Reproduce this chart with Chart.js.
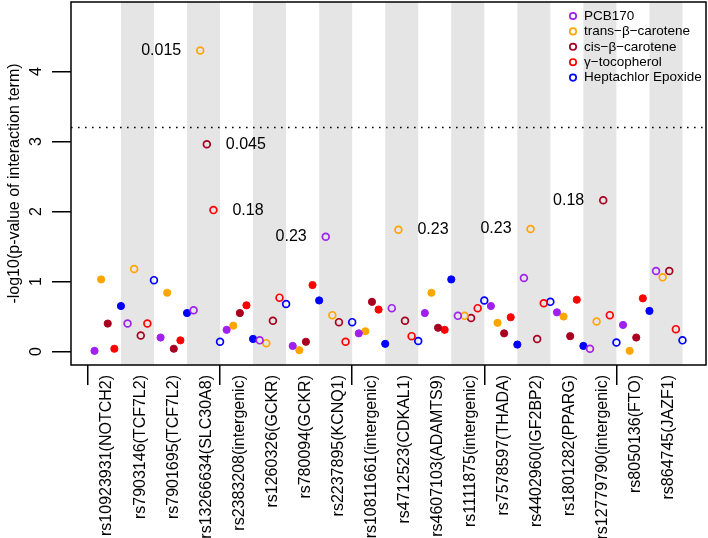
<!DOCTYPE html>
<html lang="en">
<head>
<meta charset="utf-8" />
<title>Interaction p-values by SNP</title>
<script src="https://cdn.jsdelivr.net/npm/chart.js"></script>
<style>
  body { margin: 0; background: #ffffff; }
  #chart { display: block; }
</style>
</head>
<body>
<canvas id="chart" width="708" height="538"></canvas>
<script>
// SNPs along the x axis
const snps = [
  "rs10923931(NOTCH2)", "rs7903146(TCF7L2)", "rs7901695(TCF7L2)", "rs13266634(SLC30A8)",
  "rs2383208(intergenic)", "rs1260326(GCKR)", "rs780094(GCKR)", "rs2237895(KCNQ1)",
  "rs10811661(intergenic)", "rs4712523(CDKAL1)", "rs4607103(ADAMTS9)", "rs1111875(intergenic)",
  "rs7578597(THADA)", "rs4402960(IGF2BP2)", "rs1801282(PPARG)", "rs12779790(intergenic)",
  "rs8050136(FTO)", "rs864745(JAZF1)"
];

// -log10(p) of the interaction term, one value per SNP
const pcb170     = [0.01, 0.40, 0.20, 0.59, 0.31, 0.16, 0.08, 1.64, 0.26, 0.62, 0.55, 0.51, 0.65, 1.05, 0.56, 0.04, 0.38, 1.15];
const transBeta  = [1.03, 1.18, 0.84, 4.30, 0.37, 0.12, 0.02, 0.52, 0.29, 1.74, 0.84, 0.51, 0.41, 1.75, 0.50, 0.43, 0.01, 1.06];
const cisBeta    = [0.40, 0.23, 0.04, 2.96, 0.55, 0.44, 0.14, 0.42, 0.71, 0.44, 0.34, 0.48, 0.26, 0.18, 0.22, 2.16, 0.20, 1.15];
const gammaToco  = [0.04, 0.40, 0.16, 2.02, 0.66, 0.77, 0.95, 0.14, 0.60, 0.22, 0.31, 0.62, 0.49, 0.69, 0.74, 0.52, 0.76, 0.32];
const heptachlor = [0.65, 1.02, 0.55, 0.14, 0.18, 0.68, 0.73, 0.42, 0.11, 0.15, 1.03, 0.73, 0.10, 0.71, 0.08, 0.13, 0.58, 0.16];

const seriesNames = ["PCB170", "trans\u2212\u03b2\u2212carotene", "cis\u2212\u03b2\u2212carotene", "\u03b3\u2212tocopherol", "Heptachlor Epoxide"];
const seriesValues = [pcb170, transBeta, cisBeta, gammaToco, heptachlor];
const seriesColors = ["#A020F0", "#FFA500", "#A8001E", "#FF0000", "#0000FF"];

const yTicks = [0, 1, 2, 3, 4];
const threshold = 3.2;

// numbers written next to some points: series index, SNP index, text, side
const noteSeries = [1, 2, 3, 0, 1, 1, 2];
const noteSnp    = [3, 3, 3, 7, 9, 13, 15];
const noteText   = ["0.015", "0.045", "0.18", "0.23", "0.23", "0.23", "0.18"];
const noteSide   = ["left", "right", "right", "left", "right", "left", "left"];

const xMin = -0.512, xMax = 18.712;
const labelShift = 0.58;
const groupTicks = [0, 4, 8, 12, 16];

Chart.defaults.font.family = "'Liberation Sans', Arial, sans-serif";
Chart.defaults.color = "#000000";

const datasets = seriesValues.map((vals, j) => ({
  label: seriesNames[j],
  type: "scatter",
  data: vals.map((v, k) => ({ x: k + 0.2 * (j + 1), y: v })),
  borderColor: seriesColors[j],
  backgroundColor: (c) => (c.dataIndex % 2 === 0 ? seriesColors[j] : "rgba(0,0,0,0)"),
  borderWidth: (c) => (c.dataIndex % 2 === 0 ? 1 : 1.7),
  pointRadius: (c) => (c.dataIndex % 2 === 0 ? 3.6 : 3.4),
  pointHoverRadius: 4,
}));

datasets.push({
  label: "threshold",
  type: "line",
  data: [{ x: xMin, y: threshold }, { x: xMax, y: threshold }],
  borderColor: "#000000",
  borderWidth: 1.5,
  borderDash: [1.6, 5.4],
  pointRadius: 0,
  fill: false,
});

// grey bands behind every second SNP, plot box, legend and notes
const decorations = {
  id: "decorations",
  beforeDatasetsDraw(chart) {
    const { ctx, chartArea: a, scales: { x } } = chart;
    ctx.save();
    ctx.fillStyle = "#E5E5E5";
    for (let k = 1; k < snps.length; k += 2) {
      const x0 = x.getPixelForValue(k), x1 = x.getPixelForValue(k + 1);
      ctx.fillRect(x0, a.top, x1 - x0, a.bottom - a.top);
    }
    ctx.restore();
  },
  afterDraw(chart) {
    const { ctx, chartArea: a, scales: { x, y } } = chart;
    ctx.save();
    ctx.strokeStyle = "#000000";
    ctx.lineWidth = 1.5;
    ctx.strokeRect(a.left, a.top, a.right - a.left, a.bottom - a.top);

    // legend
    ctx.font = "13.5px 'Liberation Sans', Arial, sans-serif";
    ctx.textBaseline = "middle";
    ctx.textAlign = "left";
    seriesNames.forEach((name, j) => {
      const yy = a.top + 14 + j * 15.4;
      ctx.beginPath();
      ctx.arc(a.right - 133, yy, 3.2, 0, Math.PI * 2);
      ctx.strokeStyle = seriesColors[j];
      ctx.lineWidth = 1.7;
      ctx.stroke();
      ctx.fillStyle = "#000000";
      ctx.fillText(name, a.right - 122, yy);
    });

    // notes
    ctx.font = "16px 'Liberation Sans', Arial, sans-serif";
    noteText.forEach((t, i) => {
      const j = noteSeries[i], k = noteSnp[i];
      const px = x.getPixelForValue(k + 0.2 * (j + 1));
      const py = y.getPixelForValue(seriesValues[j][k]);
      ctx.textAlign = noteSide[i] === "left" ? "right" : "left";
      ctx.fillText(t, noteSide[i] === "left" ? px - 19 : px + 19, py);
    });
    ctx.restore();
  },
};

new Chart(document.getElementById("chart"), {
  type: "scatter",
  data: { datasets },
  options: {
    responsive: false,
    animation: false,
    layout: { autoPadding: false, padding: { top: 2, right: 2, left: 0, bottom: 0 } },
    plugins: { legend: { display: false }, tooltip: { enabled: false } },
    scales: {
      x: {
        type: "linear",
        min: xMin,
        max: xMax,
        border: { display: false },
        grid: {
          drawOnChartArea: false,
          tickLength: 20,
          lineWidth: 1.5,
          color: (c) => (c.tick && groupTicks.includes(c.tick.value) ? "#000000" : "rgba(0,0,0,0)"),
        },
        afterBuildTicks(scale) {
          const t = snps.map((s, k) => ({ value: k + labelShift }));
          groupTicks.forEach((g) => t.push({ value: g }));
          scale.ticks = t;
        },
        afterFit(scale) {
          scale.height = 173;
          scale.paddingLeft = 0;
          scale.paddingRight = 0;
        },
        ticks: {
          autoSkip: false,
          minRotation: 90,
          maxRotation: 90,
          padding: -10,
          font: { size: 16 },
          callback: (v) => {
            const k = Math.round(v - labelShift);
            return Math.abs(v - labelShift - k) < 1e-6 ? snps[k] : "";
          },
        },
      },
      y: {
        min: -0.192,
        max: 4.992,
        border: { display: false },
        grid: { drawOnChartArea: false, tickLength: 19, lineWidth: 1.5, color: "#000000" },
        afterBuildTicks(scale) { scale.ticks = yTicks.map((v) => ({ value: v })); },
        afterFit(scale) {
          scale.width = 71;
          scale.paddingTop = 0;
          scale.paddingBottom = 0;
        },
        ticks: {
          minRotation: 90,
          maxRotation: 90,
          crossAlign: "center",
          padding: 11,
          font: { size: 16 },
        },
        title: {
          display: true,
          text: "-log10(p-value of interaction term)",
          font: { size: 16 },
          padding: { top: 5, bottom: 0 },
        },
      },
    },
  },
  plugins: [decorations],
});
</script>
</body>
</html>
